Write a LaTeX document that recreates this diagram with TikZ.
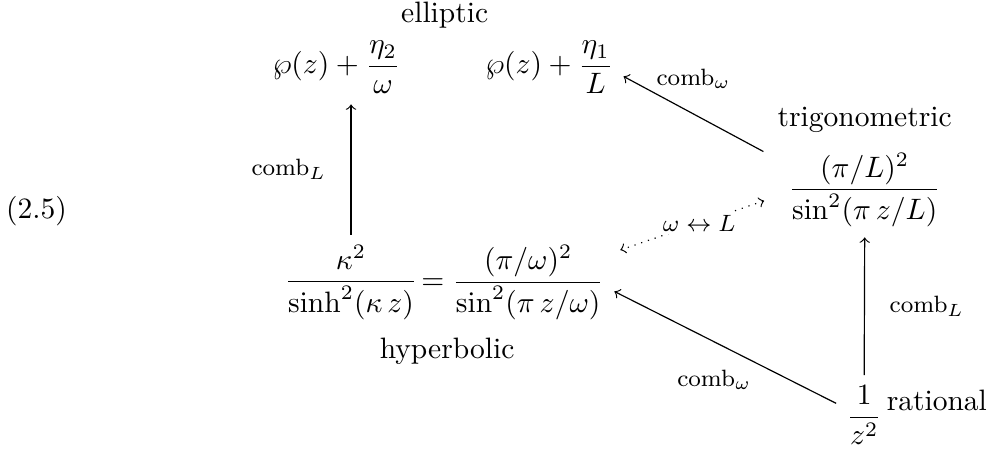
\documentclass[tikz,border=0pt]{standalone}
\usepackage{amsmath, amssymb}
\usetikzlibrary{positioning, calc}

\begin{document}
\begin{tikzpicture}[
  lbl/.style={font=\footnotesize},
  map/.style={->},
  swap/.style={dotted, <->}
]
\useasboundingbox (0,0) rectangle (11.80,5.336);

% Equation number
\node (eq) at (0.435,2.823) {(2.5)};

% Elliptic row
\node (E2) at (4.008,4.532) {$\wp(z)+\dfrac{\eta_2}{\omega}$};
\node (E1) at (6.539,4.532) {$\wp(z)+\dfrac{\eta_1}{L}$};
\node[above right=-0.1cm and -0.24cm of E2] (ell) {elliptic};

% Trigonometric
\node (T) at (10.296,3.073) {$\dfrac{(\pi/L)^2}{\sin^2(\pi\,z/L)}$};
\node[above=0cm of T] (trig) {trigonometric};

% Hyperbolic
\node (Hk) at (4.180,1.971) {$\dfrac{\kappa^2}{\sinh^2(\kappa\,z)}$};
\node (Hw) at (6.104,1.971) {$=\dfrac{(\pi/\omega)^2}{\sin^2(\pi\,z/\omega)}$};
\node (hyp) at (5.324,1.155) {hyperbolic};

% Rational
\node (R) at (10.290,0.393) {$\dfrac{1}{z^2}$};
\node[anchor=base west, xshift=-0.19cm, yshift=0.06cm] (rat) at (R.east) {rational};

% Maps
\draw[map] (Hk.north) -- (Hk.north |- E2.south)
  node[midway, left=5pt, lbl] {$\mathrm{comb}_L$};
\draw[map] (R.north) -- (T.south)
  node[midway, right=5pt, lbl] {$\mathrm{comb}_L$};
\draw[map] ([xshift=-5pt, yshift=-3pt]T.north west) -- ([yshift=-3pt]E1.east)
  node[midway, above=5pt, lbl] {$\mathrm{comb}_\omega$};
\draw[map] ([yshift=4pt]R.west) -- ([yshift=-3pt]Hw.east)
  node[pos=0.55, below=6pt, lbl] {$\mathrm{comb}_\omega$};
\draw[swap, shorten <=5pt] ([yshift=-2pt]T.west) -- ([xshift=2pt, yshift=-5pt]Hw.north east)
  node[midway, fill=white, inner sep=1pt, lbl] {$\omega\leftrightarrow L$};

\end{tikzpicture}
\end{document}
